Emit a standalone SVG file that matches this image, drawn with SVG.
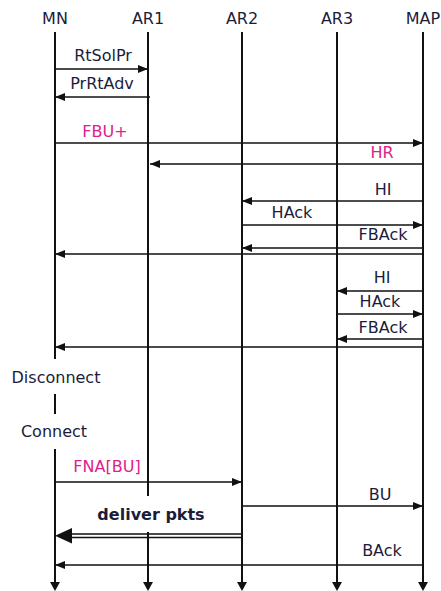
<svg xmlns="http://www.w3.org/2000/svg" width="441" height="591" viewBox="0 0 441 591">
<defs>
<marker id="ah" markerUnits="userSpaceOnUse" markerWidth="10" markerHeight="8" refX="10" refY="4" orient="auto"><path d="M0,0 L10,4 L0,8 z" fill="#111"/></marker>
</defs>
<style>
text{font-family:"DejaVu Sans","Liberation Sans",sans-serif;font-size:16px;fill:#1c1c3a;text-anchor:middle}
.m{fill:#e0208c}
.b{font-weight:bold}
.life{stroke:#111;stroke-width:2;fill:none}
.msg{stroke:#111;stroke-width:1.6;fill:none;marker-end:url(#ah)}
.tip{fill:#111}
</style>
<rect width="441" height="591" fill="#fff"/>
<g id="MN"><text x="55" y="24">MN</text><path class="life" d="M55,32V359M55,394V414M55,449V584"/><path class="tip" d="M50,582L60,582L55,591z"/></g>
<g id="AR1"><text x="148" y="24">AR1</text><path class="life" d="M148,32V496M148,532V584"/><path class="tip" d="M143,582L153,582L148,591z"/></g>
<g id="AR2"><text x="242" y="24">AR2</text><path class="life" d="M242,32V584"/><path class="tip" d="M237,582L247,582L242,591z"/></g>
<g id="AR3"><text x="337" y="24">AR3</text><path class="life" d="M337,32V584"/><path class="tip" d="M332,582L342,582L337,591z"/></g>
<g id="MAP"><text x="423" y="24">MAP</text><path class="life" d="M423,32V584"/><path class="tip" d="M418,582L428,582L423,591z"/></g>
<g id="Disconnect"><text x="56" y="383">Disconnect</text></g>
<g id="Connect"><text x="54" y="437">Connect</text></g>
<g id="connectors">
<path class="msg" d="M55,69H148"/><text x="103" y="61">RtSolPr</text>
<path class="msg" d="M150,97H55"/><text x="102" y="89">PrRtAdv</text>
<path class="msg" d="M55,143H423"/><text class="m" x="105" y="137">FBU+</text>
<path class="msg" d="M423,164H150"/><text class="m" x="382" y="158">HR</text>
<path class="msg" d="M423,201H242"/><text x="383" y="195">HI</text>
<path class="msg" d="M242,225H423"/><text x="292" y="218">HAck</text>
<path class="msg" d="M423,248H242"/><text x="383" y="240">FBAck</text>
<path class="msg" d="M423,254H55"/>
<path class="msg" d="M423,291H337"/><text x="382" y="283">HI</text>
<path class="msg" d="M337,314H423"/><text x="380" y="307">HAck</text>
<path class="msg" d="M423,339H337"/><text x="383" y="333">FBAck</text>
<path class="msg" d="M423,347H55"/>
<path class="msg" d="M55,482H242"/><text class="m" x="107" y="472">FNA[BU]</text>
<path class="msg" d="M242,506H423"/><text x="380" y="500">BU</text>
<path d="M242,534H70M242,537.5H70" stroke="#111" stroke-width="1.5" fill="none"/><path class="tip" d="M55,535.8L72,528L72,543.5z"/><text class="b" x="151" y="520">deliver pkts</text>
<path class="msg" d="M423,565H55"/><text x="382" y="556">BAck</text>
</g>
</svg>
